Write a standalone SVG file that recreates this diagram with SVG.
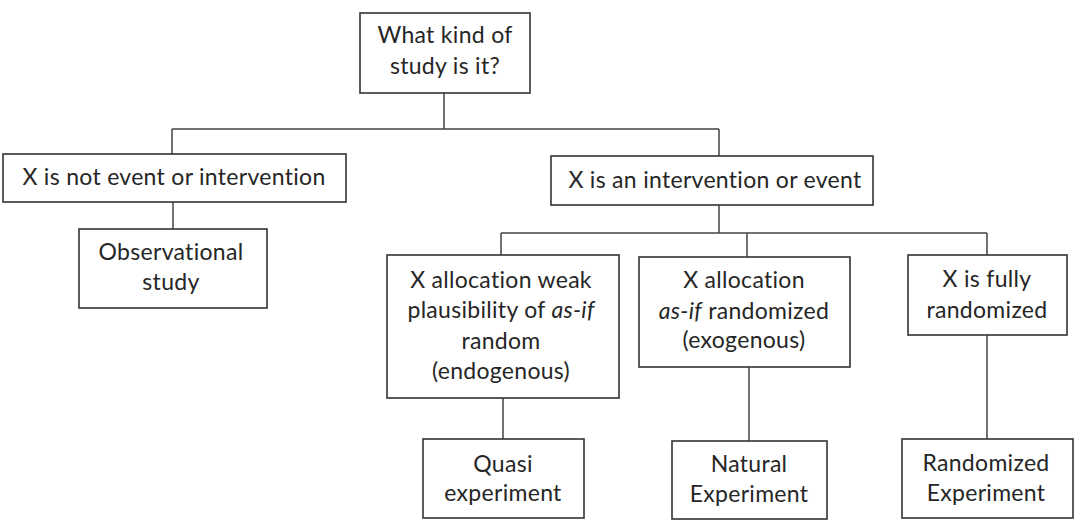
<svg xmlns="http://www.w3.org/2000/svg" width="1080" height="528" viewBox="0 0 1080 528">
<style>
.box{fill:#fff;stroke:#333;stroke-width:1.6}
.con{fill:none;stroke:#444;stroke-width:1.5}
text{font-family:Lato,"Open Sans","Liberation Sans",sans-serif;font-size:23px;letter-spacing:0.3px;fill:#262626;text-anchor:middle}
.it{font-style:italic}
</style>
<rect width="1080" height="528" fill="#fff"/>
<g id="connectors">
<path class="con" d="M444 93V129M172 129H719M172 129V154M719 129V156"/>
<path class="con" d="M173 202V229"/>
<path class="con" d="M719 205V233M501 233H987M501 233V255M747 233V257M987 233V255"/>
<path class="con" d="M503 398V439M749 367V441M987 335V439"/>
</g>
<g id="n-root"><rect class="box" x="360" y="13" width="170" height="80"/>
<text x="445" y="43">What kind of</text><text x="445" y="74">study is it?</text></g>
<g id="n-not"><rect class="box" x="3" y="154" width="343" height="48"/>
<text x="174" y="185">X is not event or intervention</text></g>
<g id="n-obs"><rect class="box" x="79" y="229" width="188" height="79"/>
<text x="171" y="260">Observational</text><text x="171" y="290">study</text></g>
<g id="n-int"><rect class="box" x="551" y="156" width="322" height="49"/>
<text x="715" y="188">X is an intervention or event</text></g>
<g id="n-weak"><rect class="box" x="387" y="255" width="232" height="143"/>
<text x="501" y="288">X allocation weak</text>
<text x="501" y="318">plausibility of <tspan class="it">as-if</tspan></text>
<text x="501" y="349">random</text>
<text x="501" y="379">(endogenous)</text></g>
<g id="n-asif"><rect class="box" x="639" y="257" width="211" height="110"/>
<text x="744" y="288">X allocation</text>
<text x="744" y="319"><tspan class="it">as-if</tspan> randomized</text>
<text x="744" y="348">(exogenous)</text></g>
<g id="n-full"><rect class="box" x="908" y="255" width="159" height="80"/>
<text x="987" y="287">X is fully</text><text x="987" y="318">randomized</text></g>
<g id="n-quasi"><rect class="box" x="423" y="439" width="161" height="79"/>
<text x="503" y="472">Quasi</text><text x="503" y="501">experiment</text></g>
<g id="n-nat"><rect class="box" x="672" y="441" width="155" height="78"/>
<text x="749" y="472">Natural</text><text x="749" y="502">Experiment</text></g>
<g id="n-rand"><rect class="box" x="902" y="439" width="171" height="79"/>
<text x="986" y="471">Randomized</text><text x="986" y="501">Experiment</text></g>
</svg>
